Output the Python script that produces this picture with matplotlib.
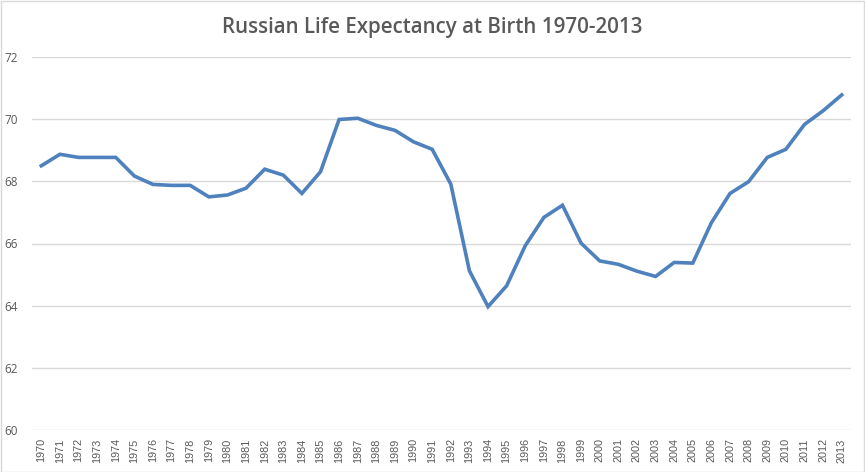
import numpy as np
import matplotlib
matplotlib.use("Agg")
import matplotlib.pyplot as plt
from matplotlib.patches import Rectangle

# Russian life expectancy at birth
years = list(range(1970, 2014))
life_exp = [68.50, 68.87, 68.77, 68.77, 68.77, 68.17, 67.90, 67.87, 67.87, 67.50,
            67.56, 67.78, 68.39, 68.20, 67.61, 68.31, 69.99, 70.03, 69.80, 69.64,
            69.27, 69.03, 67.91, 65.12, 63.97, 64.64, 65.93, 66.84, 67.23, 66.01,
            65.44, 65.33, 65.11, 64.94, 65.39, 65.37, 66.67, 67.61, 67.99, 68.77,
            69.03, 69.83, 70.27, 70.78]
y_ticks = [60, 62, 64, 66, 68, 70, 72]

plt.rcParams['font.family'] = ['Open Sans', 'DejaVu Sans']
txt_col = '#595959'

fig = plt.figure(figsize=(8.65, 4.72), dpi=100, facecolor='white')
ax = fig.add_axes([32 / 865, 1 - 430 / 472, (851 - 32) / 865, (430 - 57) / 472])

x = np.arange(len(years))
ax.plot(x, life_exp, color='#4F81BD', linewidth=2.6, solid_joinstyle='miter')

ax.set_xlim(-0.5, len(years) - 0.5)
ax.set_ylim(60, 72)
ax.set_yticks(y_ticks)
ax.set_yticklabels([str(v) for v in y_ticks], fontsize=8.5, color=txt_col)
ax.set_xticks(x)
ax.set_xticklabels([str(y) for y in years], rotation=90, fontsize=7.8, color=txt_col,
                   family=['Liberation Sans', 'DejaVu Sans'])
ax.tick_params(axis='both', length=0)
ax.tick_params(axis='y', pad=10)
ax.tick_params(axis='x', pad=6)
ax.grid(axis='y', color='#D9D9D9', linewidth=1)
ax.set_axisbelow(True)
for s in ax.spines.values():
    s.set_visible(False)

fig.text(0.5, 1 - 28 / 472, 'Russian Life Expectancy at Birth 1970-2013',
         ha='center', va='center', fontsize=14.8, color=txt_col, fontweight='semibold')

# light chart-area border
fig.patches.append(Rectangle((0.5 / 865, 0.5 / 472), 863.5 / 865, 470.5 / 472,
                             transform=fig.transFigure, fill=False,
                             edgecolor='#D9D9D9', linewidth=1))

fig.savefig('out.png', dpi=100, facecolor='white')
